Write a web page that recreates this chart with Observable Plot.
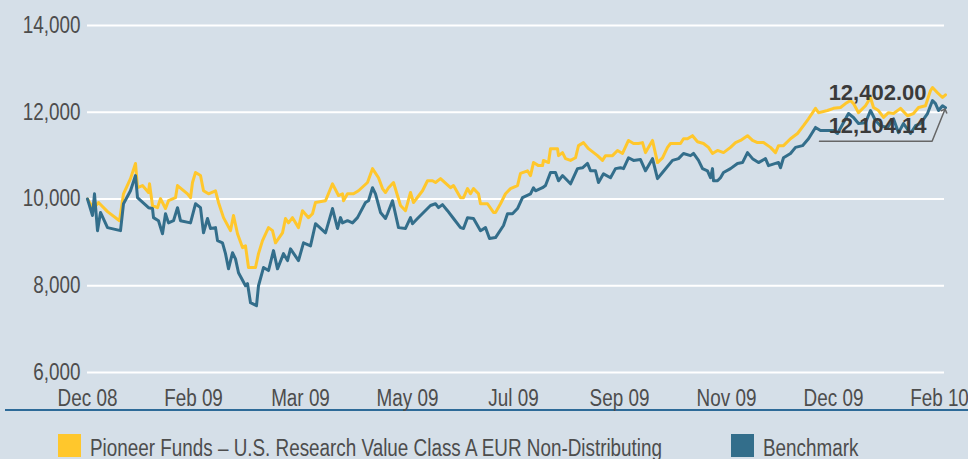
<!DOCTYPE html>
<html><head><meta charset="utf-8">
<script src="https://cdn.jsdelivr.net/npm/d3@7"></script>
<script src="https://cdn.jsdelivr.net/npm/@observablehq/plot@0.6"></script>
<style>
html,body{margin:0;padding:0;background:#d5dfe8;overflow:hidden;width:968px;height:459px}
#chart svg{display:block}
#axisline{margin-left:5px;height:0;border-top:2px solid #2d6a98}
#legend{position:relative;height:48px;font-family:"Liberation Sans",Arial,sans-serif;font-size:23px;color:#4d4d4d}
.item{position:absolute;top:23px}
.sw{position:absolute;left:0;top:0;width:23px;height:23px}
.lbl{position:absolute;left:32px;top:3px;line-height:23px;white-space:nowrap;transform:scaleX(0.82);transform-origin:0 0}
</style></head>
<body>
<div id="chart"></div>
<div id="axisline"></div>
<div id="legend"></div>
<script>
const FONT = '"Liberation Sans",Arial,sans-serif';
const NARROW = 0.82;
const seriesNames = ["Pioneer Funds – U.S. Research Value Class A EUR Non-Distributing", "Benchmark"];
const seriesColors = ["#ffc72c", "#336e8b"];
const xLabels = ["Dec 08","Feb 09","Mar 09","May 09","Jul 09","Sep 09","Nov 09","Dec 09","Feb 10"];
const xTicks = [0,53,106.5,160,213,266,319.5,373,426];
const yTicks = [6000,8000,10000,12000,14000];

const fundDays = [0,3,5.5,10,16,18,21.5,24,25,27.5,30.5,31,32.5,35,36.5,39,40.5,44,45,50,51.5,52.5,54,56.5,58,60.5,64,65.5,68,71.5,73,75,77.5,79,80.5,84,85.5,87.5,90.5,92.5,94,97.5,99,100.5,102.5,105.5,107.5,110.5,112.5,114,119,122.5,125.5,127.5,128,130,133,135.5,140,142.5,145.5,147.5,149,150.5,153,156.5,159,161.5,163,167.5,170,172.5,174,176.5,181.5,183,186.5,188,190,191.5,193,195.5,196.5,200,203,204,206.5,209,211.5,215,216.5,220,221.5,223,225.5,227.5,228,230.5,231.5,235,235.5,237.5,239,241.5,244,245.5,248,250.5,255,257.5,259,262.5,265,267.5,270.5,273,275.5,277.5,279,282.5,285,287.5,290,291.5,296.5,298,300,302.5,305,308,310.5,312.5,315,318,321.5,324,326.5,330,332.5,335,338,341.5,344,345.5,348,351.5,355,358,360.5,364,365.5,370,373,376.5,379,381.5,383,385.5,389,391.5,393,395.5,398,400.5,403,406.5,410,413,415.5,419,421.5,422.5,425,427.5,429];
const fundValues = [10000,9780,9920,9710,9500,10120,10470,10820,10260,10310,10150,10350,9850,9800,10010,9780,9960,10030,10310,10120,10030,10380,10610,10540,10190,10120,10190,9920,9570,9270,9620,9200,8880,8920,8420,8420,8740,9040,9340,9270,8990,9220,9550,9450,9570,9340,9730,9570,9660,9920,9960,10350,10080,10120,9960,10120,10120,10190,10380,10700,10490,10240,10150,10260,10380,9850,9730,10150,9920,10190,10420,10420,10380,10470,10260,10310,10030,10030,10240,10120,10240,10120,9890,9890,9690,9690,9890,10120,10240,10310,10590,10650,10540,10840,10770,10770,10890,10840,11160,11160,11000,11070,10930,10890,10950,11230,11300,11160,11000,10890,11000,11000,11120,11050,11350,11280,11280,11300,11070,11350,10840,10950,11190,11280,11280,11390,11390,11460,11320,11280,11190,11050,11120,11070,11190,11300,11350,11460,11350,11300,11300,11190,11070,11230,11230,11390,11510,11690,11850,12090,11990,12040,12090,12110,12200,12270,12200,11990,12150,12340,12110,12040,11880,11990,11970,12090,11920,11970,12110,12150,12500,12570,12450,12340,12402.00];

const benchDays = [0,2.5,3.5,5,6.5,10,16.5,18,21.5,24,25,30.5,32.5,33,35.5,37.5,39,40.5,43,45,46.5,51.5,54,56.5,58,60,61.5,64,65,67.5,69,70.5,72.5,74,75.5,79,80,81.5,84.5,85.5,88,90.5,93,95,98,100,101.5,105.5,108,111.5,114,119,122.5,125,126.5,127.5,130,132.5,135,139,140.5,142.5,144,146.5,149,150,152.5,155.5,159,161.5,162.5,165,168,171.5,174,175.5,177.5,180,183,186.5,188,190,193,196.5,199,201,204,208,210,212.5,215,217.5,221.5,223,224,227.5,229,231.5,234,235.5,237.5,241.5,245,247.5,250,251.5,254,255.5,258,261.5,264,266.5,268,270.5,273,276.5,279,282.5,285,287.5,292.5,295.5,298,301.5,303,305.5,307.5,310,311.5,312.5,313,315,316.5,318,321.5,325,327.5,330,332.5,335.5,339,340.5,344,345.5,346.5,348,351.5,354,357.5,360.5,364,366.5,373,375,380.5,383,385.5,389,391.5,394,396.5,400,403,405.5,408,411.5,414,416.5,420,422.5,424,425.5,427.5,429];
const benchValues = [10000,9620,10120,9270,9690,9340,9270,9890,10190,10540,10030,9800,9780,9570,9500,9200,9660,9450,9500,9800,9500,9450,9890,9800,9220,9550,9320,9340,9040,8990,8740,8390,8760,8620,8300,8000,8050,7610,7540,8000,8420,8350,8810,8390,8740,8580,8850,8580,8990,8920,9430,9220,9780,9320,9570,9450,9500,9450,9570,9920,9960,10260,10120,9690,9550,9660,9960,9340,9320,9570,9430,9550,9690,9850,9890,9800,9870,9730,9550,9340,9320,9570,9550,9270,9340,9090,9110,9390,9660,9660,9780,10030,10120,10260,10190,10260,10310,10610,10610,10420,10540,10350,10700,10720,10820,10650,10650,10380,10580,10490,10700,10720,10700,10950,10890,10910,10650,10930,10470,10610,10890,10930,11050,11000,11050,10890,10700,10650,10490,10700,10420,10420,10490,10610,10700,10820,10840,11070,10930,10840,10930,10770,10820,10840,10720,10950,11050,11190,11230,11390,11650,11580,11580,11510,11970,11880,11740,11760,12040,11810,11690,11650,11850,11530,11740,11510,11690,11740,11970,12270,12200,12040,12150,12104.14];

const calloutDays = [366,422.3,428.5];
const calloutValues = [11330,11330,12040];

const fund = fundDays.map((d,i)=>({day:d, value:fundValues[i]}));
const bench = benchDays.map((d,i)=>({day:d, value:benchValues[i]}));
const callout = calloutDays.map((d,i)=>({day:d, value:calloutValues[i]}));

const chart = Plot.plot({
  width:968, height:409,
  marginLeft:87, marginRight:24, marginTop:25, marginBottom:37,
  style:{background:"transparent", fontFamily:FONT, fontSize:"23px", color:"#4d4d4d", overflow:"visible"},
  x:{domain:[0,428.5]},
  y:{domain:[6000,14000]},
  marks:[
    Plot.gridY(yTicks,{stroke:"#ffffff", strokeOpacity:1, strokeWidth:2}),
    Plot.axisY(yTicks,{tickSize:0, tickPadding:7, tickFormat:d3.format(","), fontSize:23, fill:"#4d4d4d", label:null}),
    Plot.axisX(xTicks,{tickSize:0, tickPadding:17, tickFormat:d=>xLabels[xTicks.indexOf(d)], fontSize:23, fill:"#4d4d4d", label:null}),
    Plot.line(fund,{x:"day", y:"value", stroke:seriesColors[0], strokeWidth:3, strokeLinejoin:"round"}),
    Plot.line(bench,{x:"day", y:"value", stroke:seriesColors[1], strokeWidth:3, strokeLinejoin:"round"}),
    Plot.line(callout,{x:"day", y:"value", stroke:"#666666", strokeWidth:1.5, markerEnd:"arrow"}),
    Plot.text([fund[fund.length-1]],{x:"day", y:"value", text:d=>d3.format(",.2f")(d.value), textAnchor:"end", dx:-19, dy:-1.5, fontSize:22, fontWeight:"bold", fill:"#3a3a3a"}),
    Plot.text([bench[bench.length-1]],{x:"day", y:"value", text:d=>d3.format(",.2f")(d.value), textAnchor:"end", dx:-19, dy:18, fontSize:22, fontWeight:"bold", fill:"#3a3a3a"})
  ]
});
document.getElementById("chart").appendChild(chart);
// condense axis tick labels horizontally (narrow typeface look)
chart.querySelectorAll('g[aria-label="x-axis tick label"] text, g[aria-label="y-axis tick label"] text').forEach(t=>{
  const L = t.getComputedTextLength();
  if (L > 0) {
    t.setAttribute("textLength", (L * NARROW).toFixed(2));
    t.setAttribute("lengthAdjust", "spacingAndGlyphs");
  }
});

const legend = document.getElementById("legend");
const lefts = [58, 731];
seriesNames.forEach((name,i)=>{
  const item = document.createElement("div");
  item.className = "item";
  item.style.left = lefts[i] + "px";
  const sw = document.createElement("div");
  sw.className = "sw";
  sw.style.background = seriesColors[i];
  const lbl = document.createElement("div");
  lbl.className = "lbl";
  lbl.textContent = name;
  item.appendChild(sw); item.appendChild(lbl);
  legend.appendChild(item);
});
</script>
</body></html>
